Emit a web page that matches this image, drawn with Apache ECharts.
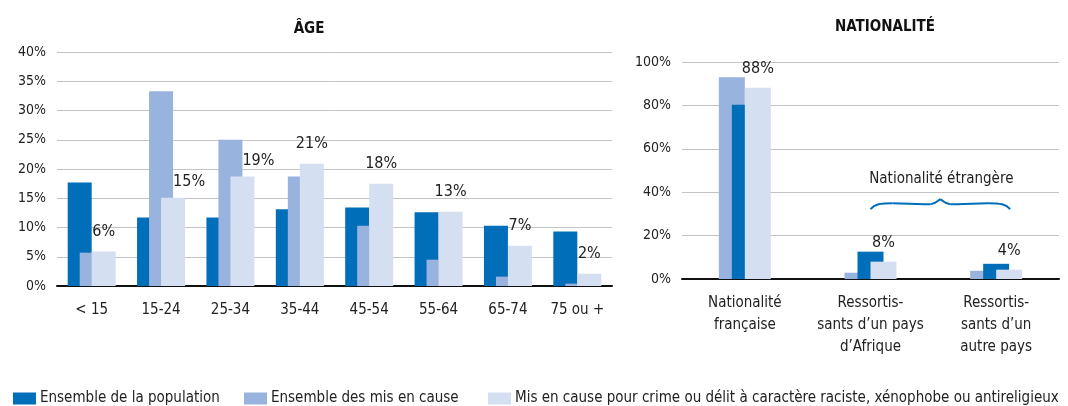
<!DOCTYPE html>
<html>
<head>
<meta charset="utf-8">
<script src="https://cdn.jsdelivr.net/npm/echarts@6/dist/echarts.min.js"></script>
<style>
  html, body { margin: 0; padding: 0; background: #fff; }
  #chart { width: 1068px; height: 406px; }
</style>
</head>
<body>
<div id="chart"></div>
<script>
const FONT = "'Liberation Sans Narrow', 'Arial Narrow', 'DejaVu Sans Condensed', sans-serif"
const DARK = '#006eb8'
const MID = '#98b3de'
const LIGHT = '#d5dff2'

const seriesNames = [
  'Ensemble de la population',
  'Ensemble des mis en cause',
  'Mis en cause pour crime ou délit à caractère raciste, xénophobe ou antireligieux'
]

// ÂGE
const ageCategories = ['< 15', '15-24', '25-34', '35-44', '45-54', '55-64', '65-74', '75 ou +']
const agePopulation = [17.7, 11.7, 11.7, 13.1, 13.4, 12.6, 10.3, 9.3]
const ageMisEnCause = [5.7, 33.3, 25.0, 18.7, 10.3, 4.5, 1.6, 0.4]
const ageRaciste = [5.9, 15.1, 18.7, 20.9, 17.5, 12.7, 6.9, 2.1]
const ageTicks = [0, 5, 10, 15, 20, 25, 30, 35, 40]

// NATIONALITÉ
const natCategories = [
  'Nationalité\nfrançaise',
  'Ressortis-\nsants d\u2019un pays\nd\u2019Afrique',
  'Ressortis-\nsants d\u2019un\nautre pays'
]
const natPopulation = [80.3, 12.6, 7.0]
const natMisEnCause = [93.0, 2.9, 3.8]
const natRaciste = [88.1, 8.0, 4.3]
const natTicks = [0, 20, 40, 60, 80, 100]

const txt = { fontFamily: FONT, fontSize: 15, color: '#222' }

function pctLabel(p) {
  return Math.round(p.value) + '%'
}

// labels pushed right where the taller mid bar is in the way
const ageRacisteData = ageRaciste.map((v, i) => {
  if (ageMisEnCause[i] > v) return { value: v, label: { offset: [16, 4] } }
  return v
})

function xAxisBase(idx, data) {
  return {
    type: 'category',
    gridIndex: idx,
    data: data,
    axisLine: { show: true, lineStyle: { color: '#111', width: 2 } },
    axisTick: { show: false },
    axisLabel: { ...txt, margin: 13, lineHeight: 22, interval: 0 }
  }
}

function yAxisBase(idx, ticks) {
  return {
    type: 'value',
    gridIndex: idx,
    min: ticks[0],
    max: ticks[ticks.length - 1],
    interval: ticks[1] - ticks[0],
    axisLine: { show: false },
    axisTick: { show: false },
    axisLabel: { ...txt, fontSize: 14, margin: 11, formatter: '{value}%' },
    splitLine: { lineStyle: { color: '#c3c3c3', width: 1 } }
  }
}

function legendItem(name, left) {
  return {
    data: [name],
    left: left,
    bottom: 0,
    padding: 0,
    itemWidth: 23,
    itemHeight: 12,
    icon: 'rect',
    textStyle: { ...txt, padding: [0, 0, 0, -1] }
  }
}

const option = {
  animation: false,
  title: [
    { text: 'ÂGE', left: 304, top: 17, textAlign: 'center',
      textStyle: { fontFamily: FONT, fontSize: 15, fontWeight: 'bold', color: '#111' } },
    { text: 'NATIONALITÉ', left: 880, top: 15, textAlign: 'center',
      textStyle: { fontFamily: FONT, fontSize: 15, fontWeight: 'bold', color: '#111' } }
  ],
  legend: [
    legendItem(seriesNames[0], 13),
    legendItem(seriesNames[1], 244),
    legendItem(seriesNames[2], 488)
  ],
  grid: [
    { left: 57, right: 456, top: 52, bottom: 120 },
    { left: 682, right: 9, top: 62, bottom: 127 }
  ],
  xAxis: [xAxisBase(0, ageCategories), xAxisBase(1, natCategories)],
  yAxis: [yAxisBase(0, ageTicks), yAxisBase(1, natTicks)],
  series: [
    { name: seriesNames[0], type: 'bar', xAxisIndex: 0, yAxisIndex: 0, data: agePopulation,
      barWidth: 24, barGap: '-50%', itemStyle: { color: DARK } },
    { name: seriesNames[1], type: 'bar', xAxisIndex: 0, yAxisIndex: 0, data: ageMisEnCause,
      barWidth: 24, barGap: '-50%', itemStyle: { color: MID } },
    { name: seriesNames[2], type: 'bar', xAxisIndex: 0, yAxisIndex: 0, data: ageRacisteData,
      barWidth: 24, barGap: '-50%', itemStyle: { color: LIGHT },
      label: { show: true, position: 'top', distance: 12, ...txt, fontSize: 16, formatter: pctLabel } },

    { name: seriesNames[1], type: 'bar', xAxisIndex: 1, yAxisIndex: 1, data: natMisEnCause,
      barWidth: 26, barGap: '-50%', itemStyle: { color: MID } },
    { name: seriesNames[0], type: 'bar', xAxisIndex: 1, yAxisIndex: 1, data: natPopulation,
      barWidth: 26, barGap: '-50%', itemStyle: { color: DARK } },
    { name: seriesNames[2], type: 'bar', xAxisIndex: 1, yAxisIndex: 1, data: natRaciste,
      barWidth: 26, barGap: '-50%', itemStyle: { color: LIGHT },
      label: { show: true, position: 'top', distance: 11, ...txt, fontSize: 16, formatter: pctLabel } }
  ]
}

const mychart = echarts.init(document.getElementById('chart'))
mychart.setOption(option)

// accolade "Nationalité étrangère" au-dessus des deux catégories étrangères
const braceStyle = { stroke: DARK, lineWidth: 2, fill: null }
function curve(x1, y1, cx1, cy1, cx2, cy2, x2, y2) {
  return {
    type: 'bezierCurve',
    shape: { x1: x1, y1: y1, cpx1: cx1, cpy1: cy1, cpx2: cx2, cpy2: cy2, x2: x2, y2: y2 },
    style: braceStyle
  }
}
function drawBrace() {
  const a = mychart.convertToPixel({ xAxisIndex: 1 }, natCategories[1])
  const b = mychart.convertToPixel({ xAxisIndex: 1 }, natCategories[2]) + 14
  const yArm = mychart.convertToPixel({ yAxisIndex: 1 }, 34.5)
  const yTip = yArm - 5
  const yEnd = yArm + 5
  const m = (a + b) / 2
  mychart.setOption({
    graphic: [
      curve(a, yEnd, a + 4, yArm, a + 10, yArm - 1, a + 22, yArm - 1),
      curve(a + 22, yArm - 1, a + 40, yArm - 1, m - 30, yArm + 0.5, m - 10, yArm),
      curve(m - 10, yArm, m - 4, yArm - 0.5, m - 2, yTip + 1, m, yTip),
      curve(m, yTip, m + 2, yTip + 1, m + 4, yArm - 0.5, m + 10, yArm),
      curve(m + 10, yArm, m + 30, yArm + 0.5, b - 40, yArm - 1, b - 22, yArm - 1),
      curve(b - 22, yArm - 1, b - 10, yArm - 1, b - 4, yArm, b, yEnd),
      { type: 'text', x: m + 1, y: yTip - 20,
        style: { text: 'Nationalité étrangère', fontFamily: FONT, fontSize: 15, fill: '#222',
          textAlign: 'center', textVerticalAlign: 'middle' } }
    ]
  })
}
drawBrace()
</script>
</body>
</html>
